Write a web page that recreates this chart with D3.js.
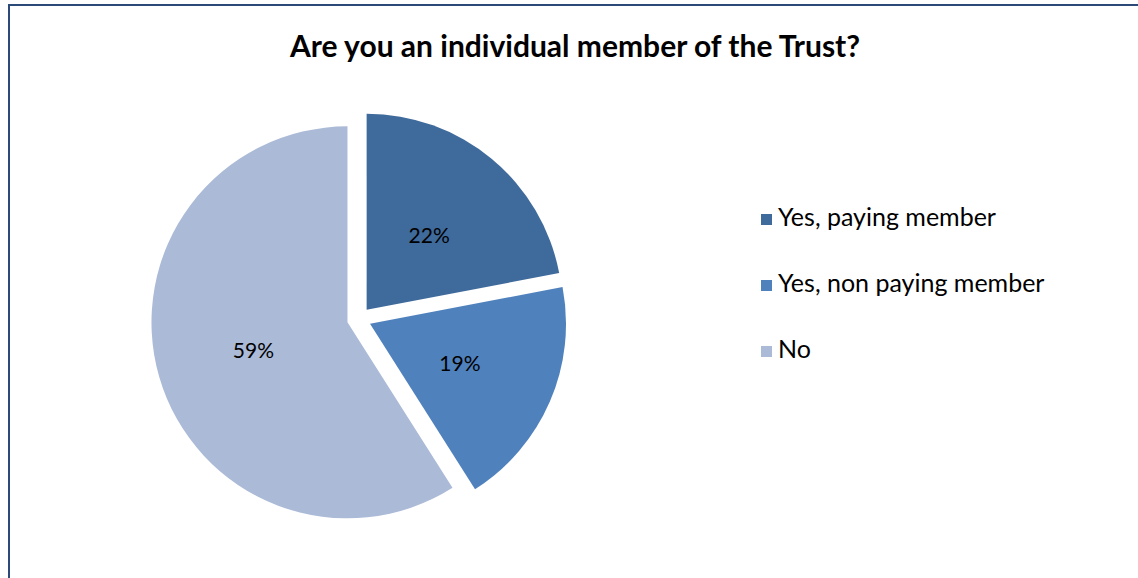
<!DOCTYPE html>
<html>
<head>
<meta charset="utf-8">
<script src="https://cdn.jsdelivr.net/npm/d3@7"></script>
<style>
  html, body { margin: 0; padding: 0; background: #fff; }
  svg { display: block; }
</style>
</head>
<body>
<svg id="chart" width="1138" height="578"></svg>
<script>
// Survey answers and their shares (percent)
const categories = ["Yes, paying member", "Yes, non paying member", "No"];
const shares = [22, 19, 59];
const colors = ["#3F6A9C", "#4F81BD", "#ABBAD7"];
const title = "Are you an individual member of the Trust?";

const W = 1138, H = 578;
const svg = d3.select("#chart");
const font = "Lato, 'Open Sans', sans-serif";

// Outer frame (runs past the right and bottom edges)
svg.append("rect")
  .attr("x", 9).attr("y", 5)
  .attr("width", W + 20).attr("height", H + 20)
  .attr("fill", "none")
  .attr("stroke", "#2C4A77")
  .attr("stroke-width", 2);

// Title
svg.append("text")
  .attr("x", 575).attr("y", 57)
  .attr("text-anchor", "middle")
  .attr("font-family", font)
  .attr("font-weight", "bold")
  .attr("font-size", 30)
  .attr("fill", "#000")
  .text(title);

// Exploded pie
const cx = 359, cy = 319, r = 196, explode = 12;
const data = categories.map((c, i) => ({ name: c, value: shares[i], color: colors[i] }));
const pie = d3.pie().sort(null).value(d => d.value).startAngle(0).endAngle(2 * Math.PI);
const arc = d3.arc().innerRadius(0).outerRadius(r);
const arcs = pie(data);

const g = svg.append("g").attr("transform", `translate(${cx},${cy})`);
const slice = g.selectAll("g.slice").data(arcs).join("g")
  .attr("class", "slice")
  .attr("transform", d => {
    const a = (d.startAngle + d.endAngle) / 2;
    return `translate(${explode * Math.sin(a)},${-explode * Math.cos(a)})`;
  });

slice.append("path")
  .attr("d", arc)
  .attr("fill", d => d.data.color);

slice.append("text")
  .attr("transform", d => `translate(${arc.centroid(d)})`)
  .attr("text-anchor", "middle")
  .attr("dominant-baseline", "central")
  .attr("font-family", font)
  .attr("font-size", 21)
  .attr("fill", "#000")
  .text(d => d.data.value + "%");

// Legend
const legend = svg.append("g").attr("transform", "translate(761,0)");
const rowY = d3.scalePoint().domain(categories).range([226, 358]);
const item = legend.selectAll("g.item").data(data).join("g")
  .attr("class", "item")
  .attr("transform", d => `translate(0,${rowY(d.name)})`);
item.append("rect")
  .attr("x", 0).attr("y", -12)
  .attr("width", 11).attr("height", 11)
  .attr("fill", d => d.color);
item.append("text")
  .attr("x", 17).attr("y", 0)
  .attr("font-family", font)
  .attr("font-size", 25)
  .attr("fill", "#000")
  .text(d => d.name);
</script>
</body>
</html>
